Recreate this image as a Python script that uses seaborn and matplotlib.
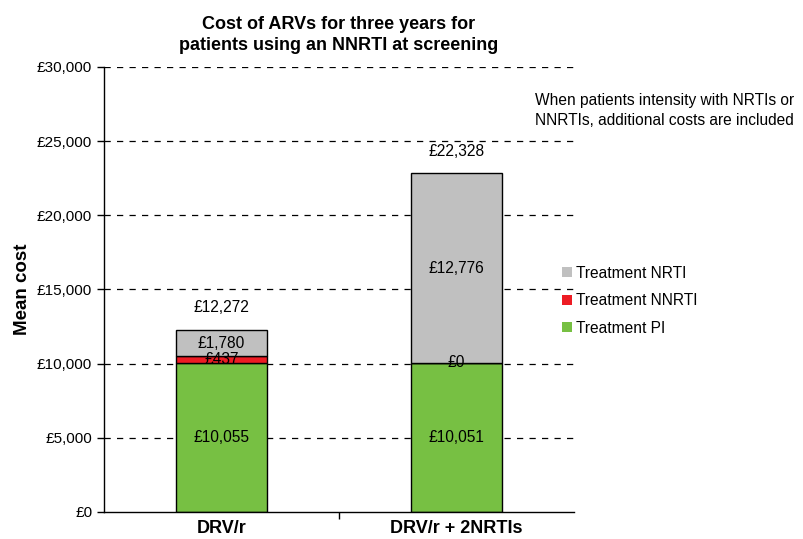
import pandas as pd
import matplotlib.pyplot as plt
import seaborn as sns
from matplotlib.ticker import FuncFormatter
from matplotlib.patches import Patch

# data
categories = ["DRV/r", "DRV/r + 2NRTIs"]
treatment_pi = [10055, 10051]
treatment_nnrti = [437, 0]
treatment_nrti = [1780, 12776]
total_labels = ["£12,272", "£22,328"]

series = ["Treatment PI", "Treatment NNRTI", "Treatment NRTI"]
colors = {"Treatment PI": "#77C043", "Treatment NNRTI": "#ED1C24",
          "Treatment NRTI": "#C0C0C0"}

df = pd.DataFrame({"category": categories,
                   "Treatment PI": treatment_pi,
                   "Treatment NNRTI": treatment_nnrti,
                   "Treatment NRTI": treatment_nrti})

sns.set_style("white")
plt.rcParams["font.family"] = ["Liberation Sans", "DejaVu Sans"]
plt.rcParams["text.color"] = "black"
plt.rcParams["axes.labelcolor"] = "black"
plt.rcParams["xtick.color"] = "black"
plt.rcParams["ytick.color"] = "black"

fig = plt.figure(figsize=(8.04, 5.39), dpi=100)
ax = fig.add_axes([0.1294, 0.0501, 0.5846, 0.8256])

# dashed grid behind bars
for y in range(5000, 30001, 5000):
    ax.axhline(y, color="black", linestyle=(0, (5, 5)), linewidth=0.9, zorder=0)

bottom = [0] * len(categories)
for s in series:
    sns.barplot(data=df, x="category", y=s, bottom=bottom, color=colors[s],
                width=0.39, edgecolor="black", linewidth=1.0, ax=ax,
                zorder=2, saturation=1)
    for i, v in enumerate(df[s]):
        ax.text(i, bottom[i] + v / 2, f"£{v:,}", ha="center", va="center",
                fontsize=11.2, zorder=3)
    bottom = [b + v for b, v in zip(bottom, df[s])]

for i, lab in enumerate(total_labels):
    ax.text(i, bottom[i] + 1000, lab, ha="center", va="bottom", fontsize=11.2)

ax.set_xlim(-0.5, 1.5)
ax.set_ylim(0, 30000)
ax.set_yticks(range(0, 30001, 5000))
ax.yaxis.set_major_formatter(FuncFormatter(lambda v, p: f"£{int(v):,}"))
ax.tick_params(axis="y", direction="out", length=5, width=1, left=True,
               labelsize=11)
ax.set_xticks([0, 1])
ax.set_xticklabels(categories, fontweight="bold", fontsize=13)
ax.set_xticks([0.5], minor=True)
ax.tick_params(axis="x", which="major", length=0, pad=6)
ax.tick_params(axis="x", which="minor", length=5, width=1, bottom=True)
ax.set_xlabel("")
ax.set_ylabel("Mean cost", fontweight="bold", fontsize=13.5, labelpad=4)

for side in ["top", "right"]:
    ax.spines[side].set_visible(False)
for side in ["left", "bottom"]:
    ax.spines[side].set_color("black")
    ax.spines[side].set_linewidth(1.0)

ax.set_title("Cost of ARVs for three years for\npatients using an NNRTI at screening",
             fontweight="bold", fontsize=13, pad=12, linespacing=1.3)

handles = [Patch(facecolor=colors[s], edgecolor="none", label=s)
           for s in reversed(series)]
fig.legend(handles=handles, loc="upper left", bbox_to_anchor=(0.682, 0.533),
           frameon=False, fontsize=11.2, handlelength=0.6, handleheight=0.6,
           handletextpad=0.25, labelspacing=0.8)

fig.text(0.665, 0.795,
         "When patients intensity with NRTIs or\nNNRTIs, additional costs are included",
         fontsize=11.2, ha="left", va="center", linespacing=1.35)

fig.savefig("out.png", dpi=100)
